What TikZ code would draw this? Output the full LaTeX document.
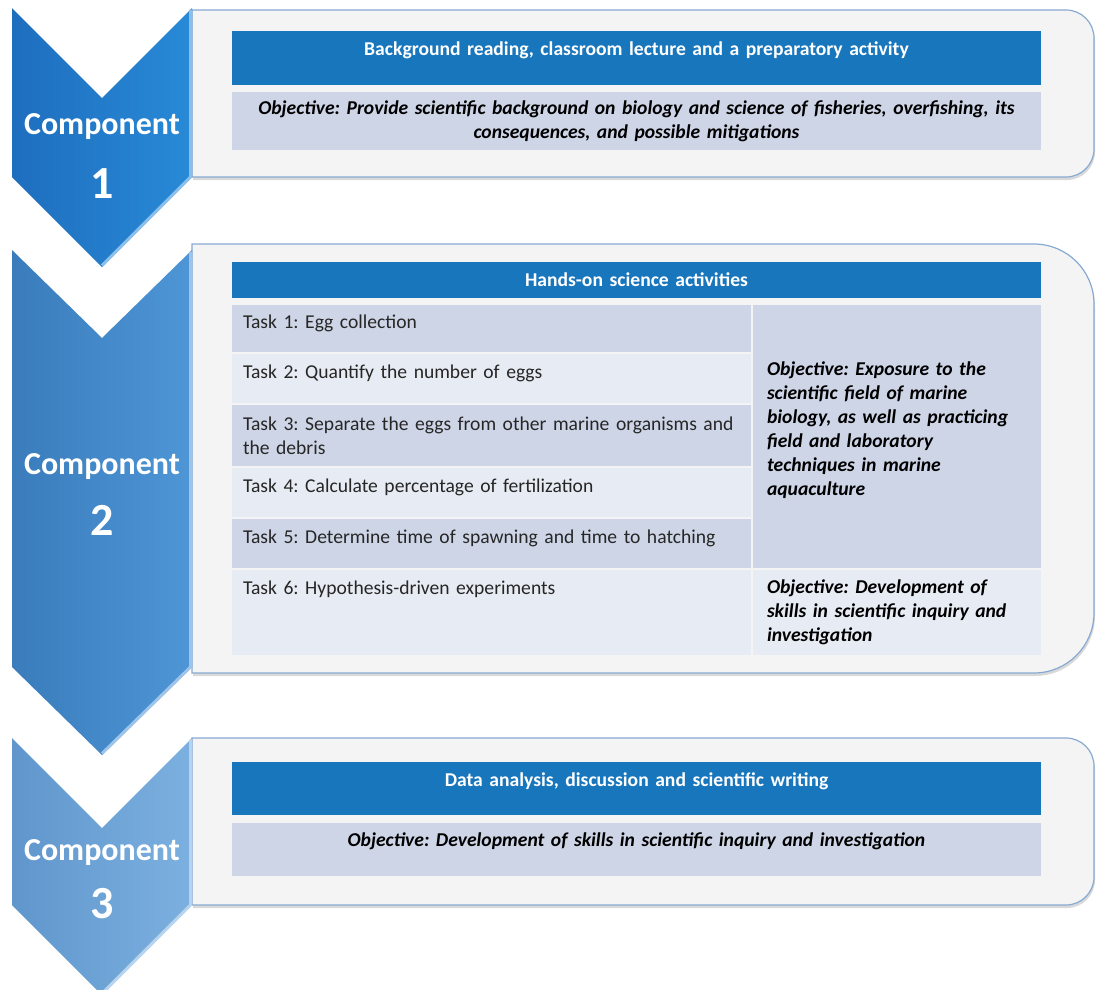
\documentclass[tikz,border=0pt]{standalone}
\usepackage{fontspec}
\setmainfont{Carlito}
\frenchspacing
\usetikzlibrary{positioning,shadows}

\definecolor{headblue}{RGB}{24,118,189}
\definecolor{rowdark}{RGB}{206,213,231}
\definecolor{rowlight}{RGB}{231,235,243}
\definecolor{panelfill}{RGB}{244,244,244}
\definecolor{panelline}{RGB}{135,170,210}
\definecolor{oneleft}{RGB}{30,110,190}
\definecolor{oneright}{RGB}{40,138,215}
\definecolor{twoleft}{RGB}{58,124,188}
\definecolor{tworight}{RGB}{78,150,214}
\definecolor{threeleft}{RGB}{96,150,204}
\definecolor{threeright}{RGB}{124,176,224}

\begin{document}
\begin{tikzpicture}[x=1pt, y=-1pt,
    panel/.style={fill=panelfill, draw=panelline, line width=1.2pt,
        drop shadow={shadow xshift=1pt, shadow yshift=-3pt, opacity=0.3}},
    rim/.style={line width=3pt, line join=miter},
    cell/.style={rectangle, anchor=north west, outer sep=0pt, inner ysep=4pt,
        font=\fontsize{19.6}{24}\selectfont},
    head/.style={cell, fill=headblue, text=white, font=\fontsize{19.6}{24}\selectfont\bfseries,
        inner xsep=13pt, text width=783pt, align=center},
    goal/.style={cell, font=\fontsize{19.6}{24}\selectfont\bfseries\itshape,
        inner xsep=13pt, text width=783pt, align=center},
    task/.style={cell, text=black!85, inner xsep=11pt, text width=497pt, align=left},
    aim/.style={cell, font=\fontsize{19.6}{24}\selectfont\bfseries\itshape,
        inner xsep=14pt, text width=260pt, align=left},
    darkrow/.style={fill=rowdark},
    lightrow/.style={fill=rowlight},
    oneline/.style={text height=13pt, text depth=13pt},
    lifted/.style={text depth=#1},
    complabel/.style={text=white, font=\fontsize{32}{36}\selectfont\bfseries},
    compnum/.style={text=white, font=\fontsize{46}{50}\selectfont\bfseries}
]
\useasboundingbox (0,0) rectangle (1096,989);

% panels, square on the left and rounded on the right
\draw[panel] (192,10) [rounded corners=28pt] -- (1094,10) -- (1094,177) [sharp corners] -- (192,177) -- cycle;
\draw[panel] (192,244) [rounded corners=60pt] -- (1094,244) -- (1094,673) [sharp corners] -- (192,673) -- cycle;
\draw[panel] (192,738) [rounded corners=28pt] -- (1094,738) -- (1094,905) [sharp corners] -- (192,905) -- cycle;

% chevrons
\shade[left color=oneleft, right color=oneright] (12,8) -- (102,98) -- (192,8) -- (192,177) -- (102,267) -- (12,177) -- cycle;
\draw[rim, oneright!55!white] (190.5,9.5) -- (190.5,177) -- (102,265.5);
\shade[left color=twoleft, right color=tworight] (12,250) -- (102,338) -- (192,250) -- (192,667) -- (102,755) -- (12,667) -- cycle;
\draw[rim, tworight!55!white] (190.5,251.5) -- (190.5,667) -- (102,753.5);
\shade[left color=threeleft, right color=threeright] (12,738) -- (102,828) -- (192,738) -- (192,905) -- (102,995) -- (12,905) -- cycle;
\draw[rim, threeright!55!white] (190.5,739.5) -- (190.5,905) -- (102,993.5);

\node[complabel] (comp1) at (102,127) {Component};
\node[compnum] (num1) at (102,184) {1};
\node[complabel] (comp2) at (102,467) {Component};
\node[compnum] (num2) at (102,520) {2};
\node[complabel] (comp3) at (102,853) {Component};
\node[compnum] (num3) at (102,904) {3};

% component 1
\node[head, minimum height=54pt, lifted=18.5pt] (head1) at (232,31)
    {Background reading, classroom lecture and a preparatory activity};
\node[goal, darkrow, minimum height=58pt, below=7pt of head1] (goal1)
    {Objective: Provide scientific background on biology and science of fisheries, overfishing, its\\consequences, and possible mitigations};

% component 2
\node[head, minimum height=36pt] (head2) at (232,262) {Hands-on science activities};
\node[task, darkrow, minimum height=47pt, oneline, below=7pt of head2.south west, anchor=north west] (task1)
    {Task 1: Egg collection};
\node[task, lightrow, minimum height=49pt, oneline, below=2pt of task1] (task2)
    {Task 2: Quantify the number of eggs};
\node[task, darkrow, minimum height=61pt, below=2pt of task2] (task3)
    {Task 3: Separate the eggs from other marine organisms and\\the debris};
\node[task, lightrow, minimum height=49pt, oneline, below=2pt of task3] (task4)
    {Task 4: Calculate percentage of fertilization};
\node[task, darkrow, minimum height=49pt, oneline, below=2pt of task4] (task5)
    {Task 5: Determine time of spawning and time to hatching};
\node[task, lightrow, minimum height=85pt, lifted=50pt, below=2pt of task5] (task6)
    {Task 6: Hypothesis-driven experiments};
\node[aim, darkrow, minimum height=263pt, lifted=136pt, right=2pt of task1.north east, anchor=north west] (aim1)
    {Objective: Exposure to the\\scientific field of marine\\biology, as well as practicing\\field and laboratory\\techniques in marine\\aquaculture};
\node[aim, lightrow, minimum height=85pt, right=2pt of task6.north east, anchor=north west] (aim2)
    {Objective: Development of\\skills in scientific inquiry and\\investigation};

% component 3
\node[head, minimum height=53pt, lifted=17.5pt] (head3) at (232,762)
    {Data analysis, discussion and scientific writing};
\node[goal, darkrow, minimum height=53pt, lifted=19.5pt, below=8pt of head3] (goal3)
    {Objective: Development of skills in scientific inquiry and investigation};
\end{tikzpicture}
\end{document}
